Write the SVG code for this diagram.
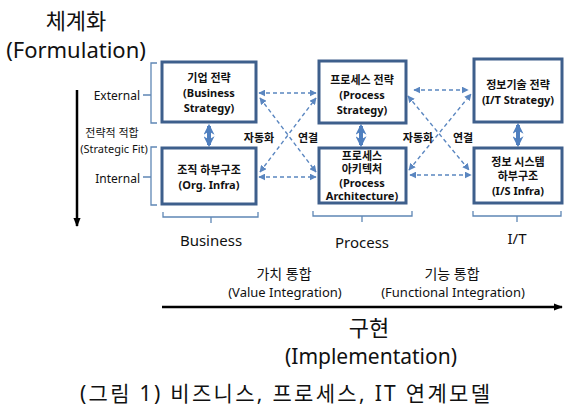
<svg xmlns="http://www.w3.org/2000/svg" width="582" height="413" viewBox="0 0 582 413">
<defs>
<style>
.box{fill:#fff;stroke:#3E5F8C;stroke-width:3}
.bt{font-family:"Noto Sans","Noto Sans CJK KR",sans-serif;font-weight:bold;font-size:11px;fill:#111;text-anchor:middle}
.dash{fill:none;stroke:#5A86C0;stroke-width:1.4;stroke-dasharray:4 3;marker-start:url(#ds);marker-end:url(#de)}
.fit{fill:none;stroke:#4F7FBF;stroke-width:4;marker-start:url(#fs);marker-end:url(#fe)}
.br{fill:none;stroke:#5F87B5;stroke-width:1.3}
.t{font-family:"Noto Sans","Noto Sans CJK KR",sans-serif;fill:#111}
.ax{stroke:#000;stroke-width:2.5;fill:none}
</style>
<marker id="de" viewBox="0 0 10 10" refX="9" refY="5" markerWidth="7" markerHeight="7" orient="auto" markerUnits="userSpaceOnUse"><path d="M0,0 L10,5 L0,10 z" fill="#5A86C0"/></marker>
<marker id="ds" viewBox="0 0 10 10" refX="1" refY="5" markerWidth="7" markerHeight="7" orient="auto" markerUnits="userSpaceOnUse"><path d="M10,0 L0,5 L10,10 z" fill="#5A86C0"/></marker>
<marker id="fe" viewBox="0 0 10 10" refX="8" refY="5" markerWidth="11" markerHeight="11" orient="auto" markerUnits="userSpaceOnUse"><path d="M0,0 L10,5 L0,10 L3,5 z" fill="#4F7FBF"/></marker>
<marker id="fs" viewBox="0 0 10 10" refX="2" refY="5" markerWidth="11" markerHeight="11" orient="auto" markerUnits="userSpaceOnUse"><path d="M10,0 L0,5 L10,10 L7,5 z" fill="#4F7FBF"/></marker>
<marker id="ah" viewBox="0 0 10 10" refX="9" refY="5" markerWidth="9" markerHeight="9" orient="auto" markerUnits="userSpaceOnUse"><path d="M0,1 L10,5 L0,9 z" fill="#000"/></marker>
</defs>

<g id="axes">
<text class="t" x="76" y="29" font-size="22" text-anchor="middle">체계화</text>
<text class="t" x="76" y="58" font-size="22" text-anchor="middle">(Formulation)</text>
<line class="ax" x1="77" y1="90" x2="77" y2="226" marker-end="url(#ah)"/>
<line class="ax" x1="162" y1="307" x2="562" y2="307" marker-end="url(#ah)"/>
<text class="t" x="369" y="336" font-size="22" text-anchor="middle">구현</text>
<text class="t" x="371" y="364" font-size="21" text-anchor="middle">(Implementation)</text>
</g>

<g id="side-labels">
<path class="br" d="M157,63 H151 V123 H157 M151,95 H143"/>
<path class="br" d="M157,147 H151 V205 H157 M151,177 H143"/>
<text class="t" x="140" y="100" font-size="12" text-anchor="end">External</text>
<text class="t" x="140" y="183" font-size="12" text-anchor="end">Internal</text>
<text class="t" x="112" y="137" font-size="11" text-anchor="middle">전략적 적합</text>
<text class="t" x="114" y="153" font-size="11" text-anchor="middle">(Strategic Fit)</text>
</g>

<g id="bottom-labels">
<path class="br" d="M163,212 V217 H258 V212 M211,217 V223"/>
<path class="br" d="M313,211 V216 H412 V211 M362,216 V222"/>
<path class="br" d="M473,211 V216 H561 V211 M517,216 V222"/>
<text class="t" x="211" y="246" font-size="15" text-anchor="middle">Business</text>
<text class="t" x="362" y="248" font-size="15" text-anchor="middle">Process</text>
<text class="t" x="517" y="244" font-size="15" text-anchor="middle">I/T</text>
<text class="t" x="284" y="279" font-size="14" text-anchor="middle">가치 통합</text>
<text class="t" x="285" y="297" font-size="13" text-anchor="middle">(Value Integration)</text>
<text class="t" x="452" y="279" font-size="14" text-anchor="middle">기능 통합</text>
<text class="t" x="453" y="297" font-size="13" text-anchor="middle">(Functional Integration)</text>
</g>

<g id="connectors">
<line class="dash" x1="259" y1="93" x2="316" y2="93"/>
<line class="dash" x1="259" y1="177" x2="316" y2="177"/>
<line class="dash" x1="260" y1="98" x2="316" y2="172"/>
<line class="dash" x1="260" y1="172" x2="316" y2="98"/>
<line class="dash" x1="414" y1="90" x2="468" y2="90"/>
<line class="dash" x1="410" y1="175" x2="471" y2="175"/>
<line class="dash" x1="408" y1="96" x2="469" y2="170"/>
<line class="dash" x1="409" y1="170" x2="471" y2="94"/>
<line class="fit" x1="209" y1="126" x2="209" y2="145"/>
<line class="fit" x1="361" y1="126" x2="361" y2="145"/>
<line class="fit" x1="518" y1="125" x2="518" y2="145"/>
<text class="t" x="259" y="142" font-size="11" font-weight="bold" text-anchor="middle">자동화</text>
<text class="t" x="308" y="142" font-size="11" font-weight="bold" text-anchor="middle">연결</text>
<text class="t" x="418" y="142" font-size="11" font-weight="bold" text-anchor="middle">자동화</text>
<text class="t" x="463" y="142" font-size="11" font-weight="bold" text-anchor="middle">연결</text>
</g>

<g id="biz-strategy">
<rect class="box" x="162" y="62" width="94" height="60"/>
<text class="bt" x="209" y="82">기업 전략</text>
<text class="bt" x="209" y="97">(Business</text>
<text class="bt" x="209" y="112">Strategy)</text>
</g>
<g id="org-infra">
<rect class="box" x="162" y="148" width="94" height="56"/>
<text class="bt" x="209" y="174">조직 하부구조</text>
<text class="bt" x="209" y="189">(Org. Infra)</text>
</g>
<g id="proc-strategy">
<rect class="box" x="319" y="61" width="87" height="62"/>
<text class="bt" x="362" y="84">프로세스 전략</text>
<text class="bt" x="362" y="99">(Process</text>
<text class="bt" x="362" y="114">Strategy)</text>
</g>
<g id="proc-arch">
<rect class="box" x="319" y="148" width="87" height="55"/>
<text class="bt" x="362" y="159.5" font-size="10.5">프로세스</text>
<text class="bt" x="362" y="173" font-size="10.5">아키텍처</text>
<text class="bt" x="362" y="186.5" font-size="10.5">(Process</text>
<text class="bt" x="362" y="200" font-size="10.5">Architecture)</text>
</g>
<g id="it-strategy">
<rect class="box" x="474" y="59" width="88" height="63"/>
<text class="bt" x="518" y="89">정보기술 전략</text>
<text class="bt" x="518" y="104">(I/T Strategy)</text>
</g>
<g id="is-infra">
<rect class="box" x="474" y="148" width="88" height="55"/>
<text class="bt" x="518" y="166">정보 시스템</text>
<text class="bt" x="518" y="180">하부구조</text>
<text class="bt" x="518" y="195">(I/S Infra)</text>
</g>

<g id="caption">
<text class="t" x="80" y="401" font-size="21" textLength="410" lengthAdjust="spacing">(그림 1) 비즈니스, 프로세스, IT 연계모델</text>
</g>
</svg>
